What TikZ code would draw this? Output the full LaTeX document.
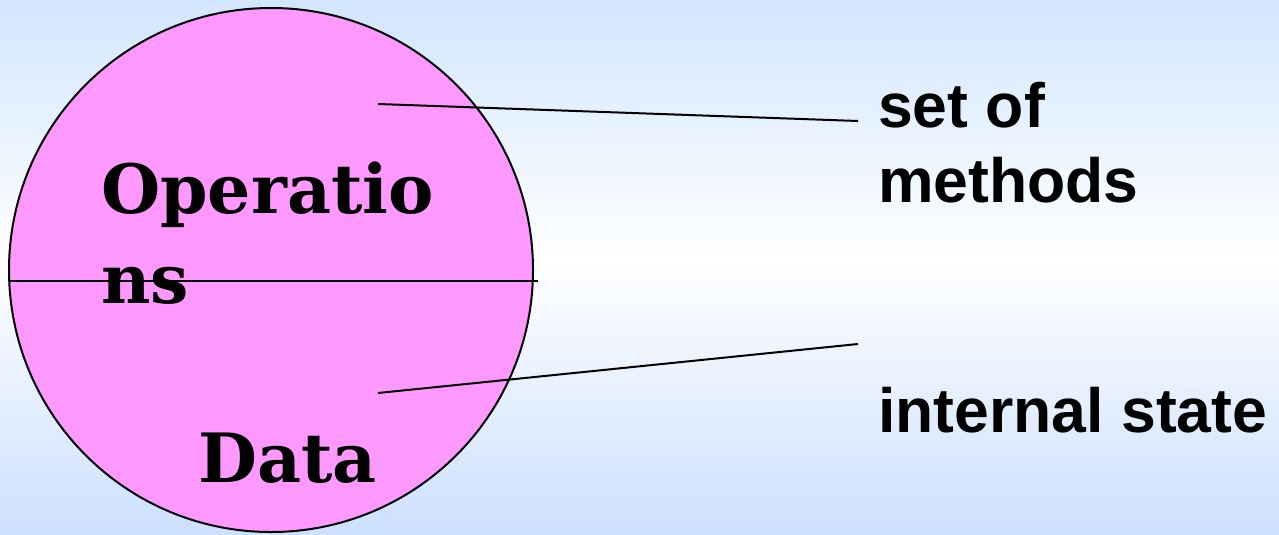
\documentclass[tikz,border=0pt]{standalone}
\usepackage{fontspec}
\newfontfamily\serifbold{DejaVu Serif}[BoldFont={DejaVu Serif Bold}]
\setsansfont{Liberation Sans}
\definecolor{bgblue}{HTML}{D2E6FF}
\definecolor{bgblue2}{HTML}{CCE0FF}
\definecolor{pinkfill}{HTML}{FF99FF}
\begin{document}
\begin{tikzpicture}[x=1pt,y=-1pt,
  lbl/.style={font=\serifbold\bfseries\fontsize{68}{90}\selectfont, anchor=base west, inner sep=0pt, align=left},
  side/.style={font=\sffamily\bfseries\fontsize{62.5}{75}\selectfont, anchor=base west, inner sep=0pt, align=left},
  conn/.style={line width=2pt, black}]
\useasboundingbox (0,0) rectangle (1279,535);
\shade[top color=bgblue, bottom color=white] (0,0) rectangle (1279,260);
\shade[top color=white, bottom color=bgblue2] (0,260) rectangle (1279,535);
\node[circle, draw=black, line width=2pt, fill=pinkfill, minimum size=524pt, inner sep=0pt] (obj) at (271,270) {};
\coordinate (divL) at (9,281);
\coordinate (divR) at (538,281);
\draw[conn] (divL) -- (divR);
\node[lbl] (ops) at (101,303) {Operatio\\ns};
\node[lbl] (data) at (198,482) {Data};
\node[side] (methods) at (878,202) {set of\\methods};
\node[side] (state) at (878,432) {internal state};
\coordinate (a1) at (378,104);
\coordinate (a2) at (858,121);
\coordinate (b1) at (378,393);
\coordinate (b2) at (858,344);
\draw[conn] (a1) -- (a2);
\draw[conn] (b1) -- (b2);
\end{tikzpicture}
\end{document}
